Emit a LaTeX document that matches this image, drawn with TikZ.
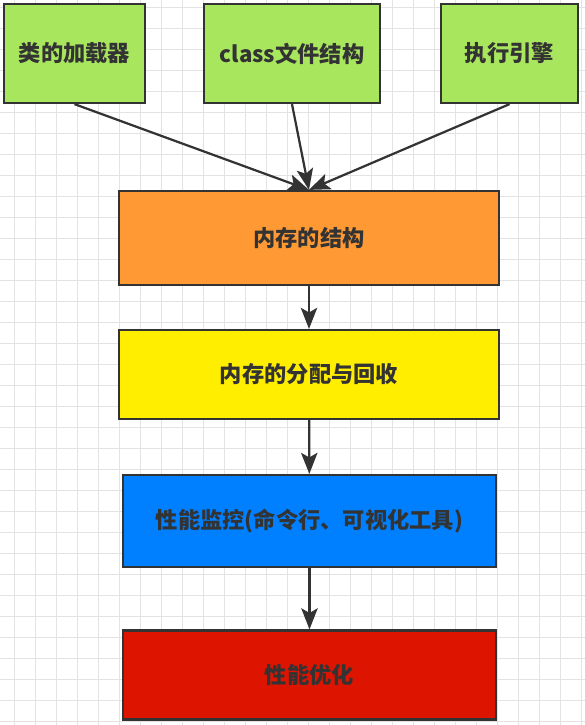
\documentclass[tikz,border=0pt]{standalone}
\usepackage{fontspec}
\setmainfont{Noto Sans CJK SC}
\usepackage{tikz}
\usetikzlibrary{arrows.meta, positioning}
\usepackage{xcolor}

\definecolor{boxline}{HTML}{333333}
\definecolor{gridgray}{HTML}{E3E3E3}
\definecolor{loadgreen}{HTML}{A8E65E}
\definecolor{memorange}{HTML}{FF9933}
\definecolor{allocyellow}{HTML}{FFEE00}
\definecolor{monblue}{HTML}{0080FF}
\definecolor{tunered}{HTML}{DD1500}

\begin{document}
\begin{tikzpicture}[
  box/.style={rectangle, draw=boxline, line width=1.9pt, align=center,
              text=boxline, font=\fontsize{19}{23}\selectfont\bfseries},
  topbox/.style={box, fill=loadgreen, minimum height=2.97cm},
  widebox/.style={box, minimum width=11.4cm},
  arrow/.style={-{Stealth[length=18pt, width=14pt, inset=4pt]}, line width=1.9pt, draw=boxline},
  gridline/.style={gridgray, line width=0.6pt},
]
  \useasboundingbox (0, 0) rectangle (17.55, -21.75);
  \fill[white] (0, 0) rectangle (17.55, -21.75);

  % background grid
  \foreach \k in {0,...,27}
    \draw[gridline] ({0.42+0.63*\k}, 0) -- ({0.42+0.63*\k}, -21.75);
  \foreach \k in {0,...,34}
    \draw[gridline] (0, {-0.21-0.63*\k}) -- (17.55, {-0.21-0.63*\k});

  \node[topbox, minimum width=4.23cm] (loader)    at (2.235, -1.605)  {类的加载器};
  \node[topbox, minimum width=5.28cm] (classfile) at (8.76, -1.605)   {class文件结构};
  \node[topbox, minimum width=4.11cm] (engine)    at (15.285, -1.605) {执行引擎};
  \node[widebox, fill=memorange, minimum height=2.82cm]  (memory)  at (9.27, -7.14)   {内存的结构};
  \node[widebox, fill=allocyellow, minimum height=2.67cm] (alloc)  at (9.27, -11.235) {内存的分配与回收};
  \node[widebox, fill=monblue, minimum width=11.19cm, minimum height=2.76cm] (monitor) at (9.285, -15.63) {性能监控(命令行、可视化工具)};
  \node[widebox, fill=tunered, minimum width=11.19cm, minimum height=2.67cm] (tuning)  at (9.285, -20.25) {性能优化};

  \draw[arrow] (loader.south) -- (memory.north);
  \draw[arrow] (classfile.south) -- (memory.north);
  \draw[arrow] (engine.south) -- (memory.north);
  \draw[arrow] (memory) -- (alloc);
  \draw[arrow] (alloc) -- (monitor);
  \draw[arrow] (monitor) -- (tuning);
\end{tikzpicture}
\end{document}
